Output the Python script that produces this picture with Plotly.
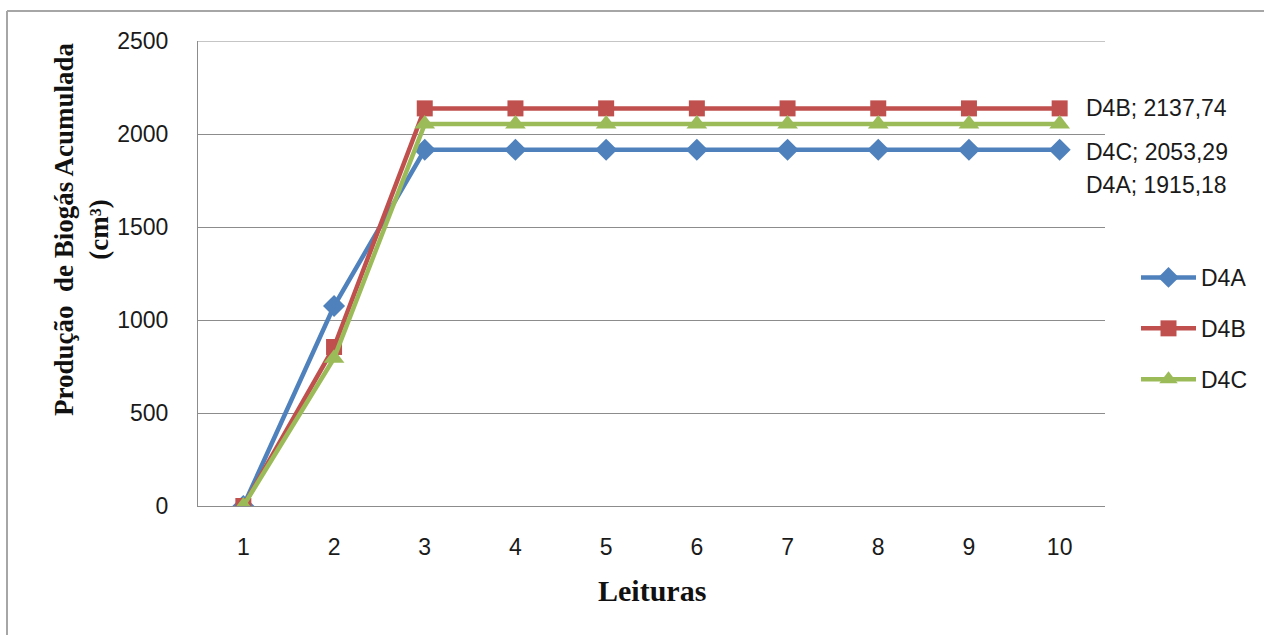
import plotly.graph_objects as go

# Leituras (reading number) on the x axis
leituras = [1, 2, 3, 4, 5, 6, 7, 8, 9, 10]

# Cumulative biogas production (cm³) per digester
d4a = [0, 1075, 1915.18, 1915.18, 1915.18, 1915.18, 1915.18, 1915.18, 1915.18, 1915.18]
d4b = [0, 855, 2137.74, 2137.74, 2137.74, 2137.74, 2137.74, 2137.74, 2137.74, 2137.74]
d4c = [0, 795, 2053.29, 2053.29, 2053.29, 2053.29, 2053.29, 2053.29, 2053.29, 2053.29]

series_names = ["D4A", "D4B", "D4C"]
series_values = [d4a, d4b, d4c]
y_ticks = [0, 500, 1000, 1500, 2000, 2500]

colors = ["#4F81BD", "#C0504D", "#9BBB59"]
symbols = ["diamond", "square", "triangle-up"]
marker_sizes = [17, 16, 18]
# vertical offsets (px) of the end labels so they do not overlap
label_shifts = [-35, 0, -28]

W, H = 1264, 635
L, R, T, B = 198, 159, 41, 129
pw, ph = W - L - R, H - T - B

sans = "Liberation Sans, Arial, sans-serif"
serif = "Liberation Serif, Times New Roman, serif"
grid_color = "#8c8c8c"

fig = go.Figure()
for i, (name, vals) in enumerate(zip(series_names, series_values)):
    fig.add_trace(go.Scatter(
        x=leituras, y=vals, name=name, mode="lines+markers",
        legendgroup=name,
        line=dict(color=colors[i], width=4.5),
        marker=dict(symbol=symbols[i], size=marker_sizes[i], color=colors[i],
                    line=dict(width=0)),
    ))
    last = vals[-1]
    fig.add_annotation(
        x=leituras[-1], y=last, xref="x", yref="y",
        text=f"{name}; {last:.2f}".replace(".", ","),
        showarrow=False, xanchor="left", yanchor="middle",
        xshift=24, yshift=label_shifts[i],
        font=dict(family=sans, size=23, color="#1a1a1a"),
    )

def px_x(p):
    return (p - L) / pw

def px_y(p):
    return (H - B - p) / ph

# axis titles
fig.add_annotation(
    x=0.5, y=px_y(590), xref="paper", yref="paper",
    text="<b>Leituras</b>", showarrow=False,
    xanchor="center", yanchor="middle",
    font=dict(family=serif, size=30, color="#111111"),
)
fig.add_annotation(
    x=px_x(81), y=px_y(229), xref="paper", yref="paper",
    text="<b>Produção\u00a0 de Biogás Acumulada</b><br><b>(cm³)</b>",
    showarrow=False, textangle=-90,
    xanchor="center", yanchor="middle",
    font=dict(family=serif, size=27, color="#111111"),
)

# gridline at the top of the value range
fig.add_shape(type="line", xref="paper", yref="y", layer="below",
              x0=0, x1=1, y0=y_ticks[-1], y1=y_ticks[-1],
              line=dict(color=grid_color, width=1.2))

# outer chart frame (top and left edges)
frame = dict(color="#a6a6a6", width=2)
fig.add_shape(type="line", xref="paper", yref="paper",
              x0=px_x(7), x1=px_x(W), y0=px_y(11), y1=px_y(11), line=frame)
fig.add_shape(type="line", xref="paper", yref="paper",
              x0=px_x(7), x1=px_x(7), y0=px_y(11), y1=px_y(H), line=frame)

fig.update_layout(
    width=W, height=H,
    margin=dict(l=L, r=R, t=T, b=B, autoexpand=False),
    paper_bgcolor="white", plot_bgcolor="white",
    showlegend=True,
    legend=dict(
        x=px_x(1136), y=px_y(256), xanchor="left", yanchor="top",
        font=dict(family=sans, size=23, color="#1a1a1a"),
        tracegroupgap=18, itemwidth=55,
        bgcolor="rgba(0,0,0,0)",
    ),
    font=dict(family=sans, size=23, color="#1a1a1a"),
)

fig.update_xaxes(
    range=[0.5, 10.5], tickmode="array", tickvals=leituras,
    ticktext=[str(v) for v in leituras],
    showgrid=False, zeroline=False,
    showline=True, mirror=False, linecolor=grid_color, linewidth=1.2,
    ticks="", ticklabelstandoff=20,
    tickfont=dict(family=sans, size=23, color="#1a1a1a"),
)
fig.update_yaxes(
    range=[0, 2500], tickmode="array", tickvals=y_ticks,
    ticktext=[str(v) for v in y_ticks],
    showgrid=True, gridcolor=grid_color, gridwidth=1.2,
    zeroline=False, showline=True, mirror=False,
    linecolor=grid_color, linewidth=1.2,
    ticks="", ticklabelstandoff=24,
    tickfont=dict(family=sans, size=23, color="#1a1a1a"),
)

fig.write_html("out.html")
